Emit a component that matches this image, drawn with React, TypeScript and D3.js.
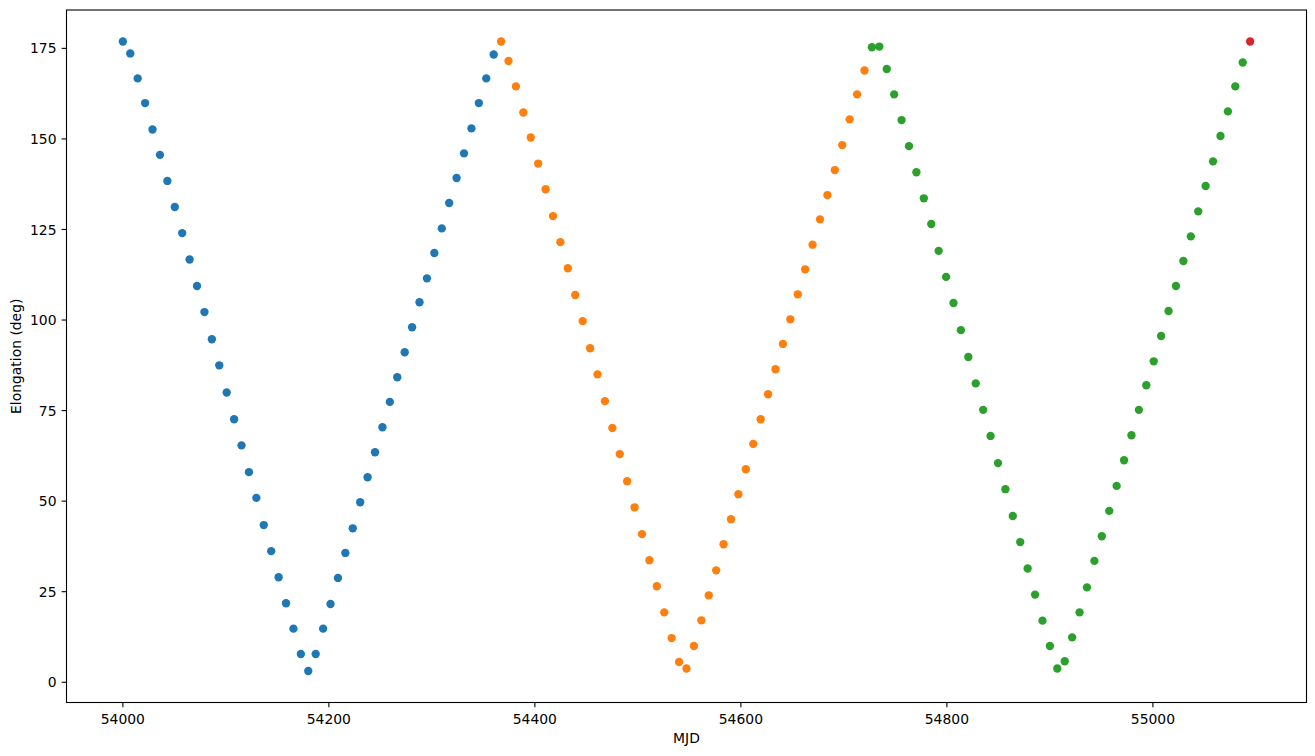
import React from 'react';
import * as d3 from 'd3';

// MJD sampling and elongation (deg), one array per colour group
const blueMjd = [
  54000.0, 54007.2, 54014.4, 54021.6, 54028.8, 54036.0, 54043.2, 54050.4, 54057.6, 54064.8,
  54072.0, 54079.2, 54086.4, 54093.6, 54100.8, 54108.0, 54115.2, 54122.4, 54129.6, 54136.8,
  54144.0, 54151.2, 54158.4, 54165.6, 54172.8, 54180.0, 54187.2, 54194.4, 54201.6, 54208.8,
  54216.0, 54223.2, 54230.4, 54237.6, 54244.8, 54252.0, 54259.2, 54266.4, 54273.6, 54280.8,
  54288.0, 54295.2, 54302.4, 54309.6, 54316.8, 54324.0, 54331.2, 54338.4, 54345.6, 54352.8,
  54360.0,
];
const blueElong = [
  176.9, 173.6, 166.7, 159.9, 152.6, 145.6, 138.4, 131.2, 124.0, 116.7,
  109.4, 102.2, 94.7, 87.5, 80.0, 72.6, 65.4, 58.0, 50.9, 43.4,
  36.2, 29.0, 21.8, 14.8, 7.8, 3.1, 7.8, 14.8, 21.6, 28.8,
  35.7, 42.5, 49.7, 56.6, 63.5, 70.4, 77.4, 84.2, 91.1, 98.0,
  104.9, 111.5, 118.5, 125.3, 132.3, 139.2, 146.0, 152.9, 159.9, 166.7,
  173.3,
];
const orangeMjd = [
  54367.2, 54374.4, 54381.6, 54388.8, 54396.0, 54403.2, 54410.4, 54417.6, 54424.8, 54432.0,
  54439.2, 54446.4, 54453.6, 54460.8, 54468.0, 54475.2, 54482.4, 54489.6, 54496.8, 54504.0,
  54511.2, 54518.4, 54525.6, 54532.8, 54540.0, 54547.2, 54554.4, 54561.6, 54568.8, 54576.0,
  54583.2, 54590.4, 54597.6, 54604.8, 54612.0, 54619.2, 54626.4, 54633.6, 54640.8, 54648.0,
  54655.2, 54662.4, 54669.6, 54676.8, 54684.0, 54691.2, 54698.4, 54705.6, 54712.8, 54720.0,
];
const orangeElong = [
  176.9, 171.5, 164.5, 157.3, 150.4, 143.2, 136.1, 128.7, 121.5, 114.3,
  106.9, 99.7, 92.2, 85.0, 77.6, 70.2, 63.0, 55.5, 48.3, 40.9,
  33.7, 26.5, 19.3, 12.2, 5.6, 3.8, 10.0, 17.1, 24.0, 30.9,
  38.1, 45.0, 51.9, 58.8, 65.8, 72.6, 79.5, 86.4, 93.4, 100.2,
  107.1, 114.0, 120.8, 127.8, 134.5, 141.4, 148.3, 155.4, 162.3, 168.9,
];
const greenMjd = [
  54727.2, 54734.4, 54741.6, 54748.8, 54756.0, 54763.2, 54770.4, 54777.6, 54784.8, 54792.0,
  54799.2, 54806.4, 54813.6, 54820.8, 54828.0, 54835.2, 54842.4, 54849.6, 54856.8, 54864.0,
  54871.2, 54878.4, 54885.6, 54892.8, 54900.0, 54907.2, 54914.4, 54921.6, 54928.8, 54936.0,
  54943.2, 54950.4, 54957.6, 54964.8, 54972.0, 54979.2, 54986.4, 54993.6, 55000.8, 55008.0,
  55015.2, 55022.4, 55029.6, 55036.8, 55044.0, 55051.2, 55058.4, 55065.6, 55072.8, 55080.0,
  55087.2,
];
const greenElong = [
  175.3, 175.5, 169.3, 162.3, 155.2, 148.0, 140.8, 133.6, 126.5, 119.1,
  111.9, 104.7, 97.2, 89.8, 82.5, 75.2, 68.0, 60.5, 53.3, 45.9,
  38.7, 31.4, 24.2, 17.0, 10.0, 3.8, 5.8, 12.4, 19.3, 26.2,
  33.5, 40.3, 47.3, 54.2, 61.3, 68.2, 75.2, 82.0, 88.6, 95.6,
  102.5, 109.4, 116.3, 123.1, 130.0, 137.0, 143.8, 150.8, 157.6, 164.5,
  171.1,
];
const redMjd = [55094.4];
const redElong = [176.9];

const xTicks = [54000, 54200, 54400, 54600, 54800, 55000];
const yTicks = [0, 25, 50, 75, 100, 125, 150, 175];

const groups = [
  { mjd: blueMjd, elong: blueElong, color: '#1f77b4' },
  { mjd: orangeMjd, elong: orangeElong, color: '#ff7f0e' },
  { mjd: greenMjd, elong: greenElong, color: '#2ca02c' },
  { mjd: redMjd, elong: redElong, color: '#d62728' },
];

export default function App() {
  const W = 1315;
  const H = 756;
  const left = 66.5;
  const right = 1306.5;
  const top = 10;
  const bottom = 702.5;

  const allX = groups.flatMap((g) => g.mjd);
  const allY = groups.flatMap((g) => g.elong);
  const [x0, x1] = d3.extent(allX) as [number, number];
  const [y0, y1] = d3.extent(allY) as [number, number];
  const px = (x1 - x0) * 0.05;
  const py = (y1 - y0) * 0.05;
  const x = d3.scaleLinear().domain([x0 - px, x1 + px]).range([left, right]);
  const y = d3.scaleLinear().domain([y0 - py, y1 + py]).range([bottom, top]);

  const fs = 13.9;
  const tickLen = 4.86;
  const lw = 1.1;

  return (
    <div style={{ position: 'absolute', left: 0, top: 0 }}>
      <svg width={W} height={H} style={{ display: 'block', background: '#fff' }} fontFamily="'DejaVu Sans', sans-serif">
        <rect x={0} y={0} width={W} height={H} fill="#fff" />
        {groups.map((g, gi) => (
          <g key={gi} fill={g.color}>
            {g.mjd.map((m, i) => (
              <circle key={i} cx={x(m)} cy={y(g.elong[i])} r={4.17} />
            ))}
          </g>
        ))}
        <rect x={left} y={top} width={right - left} height={bottom - top} fill="none" stroke="#000" strokeWidth={lw} />
        {xTicks.map((t) => (
          <g key={'x' + t}>
            <line x1={x(t)} x2={x(t)} y1={bottom} y2={bottom + tickLen} stroke="#000" strokeWidth={lw} />
            <text x={x(t)} y={724} fontSize={fs} textAnchor="middle" fill="#000">{t}</text>
          </g>
        ))}
        {yTicks.map((t) => (
          <g key={'y' + t}>
            <line x1={left - tickLen} x2={left} y1={y(t)} y2={y(t)} stroke="#000" strokeWidth={lw} />
            <text x={56.5} y={y(t) + 5.05} fontSize={fs} textAnchor="end" fill="#000">{t}</text>
          </g>
        ))}
        <text x={(left + right) / 2} y={743} fontSize={fs} textAnchor="middle" fill="#000">MJD</text>
        <text
          transform={`translate(21, ${(top + bottom) / 2}) rotate(-90)`}
          fontSize={fs}
          textAnchor="middle"
          fill="#000"
        >
          Elongation (deg)
        </text>
      </svg>
    </div>
  );
}
